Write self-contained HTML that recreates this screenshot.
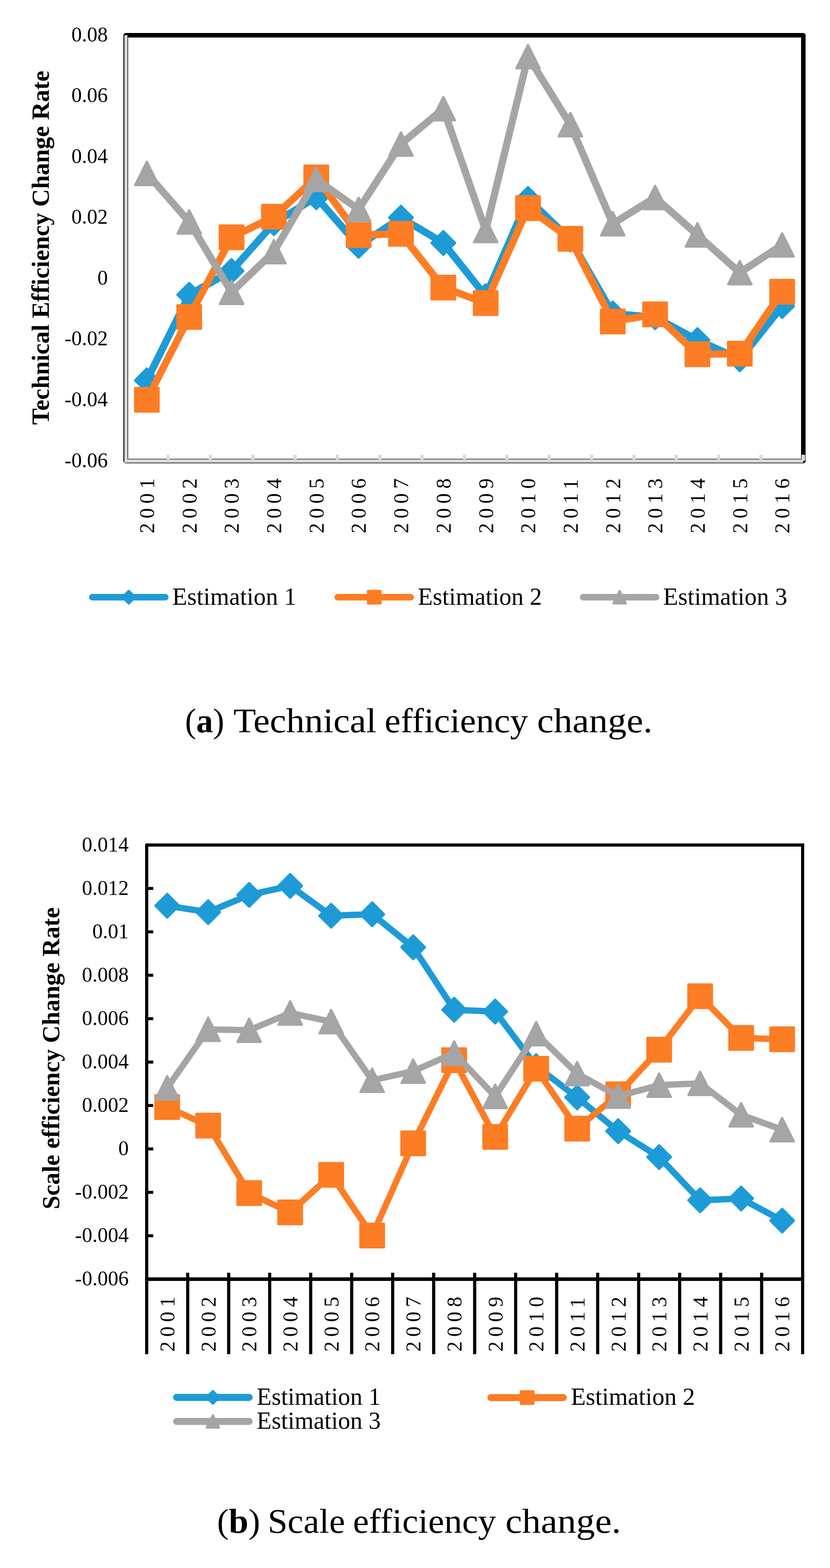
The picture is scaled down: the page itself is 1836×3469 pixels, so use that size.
<!DOCTYPE html>
<html lang="en"><head><meta charset="utf-8"><title>Efficiency change charts</title>
<style>
html,body{margin:0;padding:0;background:#fff;}
svg{display:block;}
svg text{font-family:'Liberation Serif', 'Times New Roman', serif;fill:#000;}
</style></head><body>
<svg width="1836" height="3469" viewBox="0 0 1836 3469">
<rect width="1836" height="3469" fill="#fff"/>
<g id="chartA">
<path d="M276.4 73H1778.6L1782 76.6V1021.4L1778.8 1025H276.6L273 1021.2V76.8Z" fill="#000"/>
<rect x="283.3" y="83" width="1488.7" height="932" fill="#fff"/>
<rect x="275.1" y="77.9" width="6.9" height="945.8" fill="#d9d9d9"/>
<rect x="275.1" y="1016.1" width="1501.9" height="7.6" fill="#d9d9d9"/>
<rect x="368.29" y="1006.1" width="6.8" height="10.5" fill="#d9d9d9"/>
<rect x="461.98" y="1006.1" width="6.8" height="10.5" fill="#d9d9d9"/>
<rect x="555.66" y="1006.1" width="6.8" height="10.5" fill="#d9d9d9"/>
<rect x="649.35" y="1006.1" width="6.8" height="10.5" fill="#d9d9d9"/>
<rect x="743.04" y="1006.1" width="6.8" height="10.5" fill="#d9d9d9"/>
<rect x="836.73" y="1006.1" width="6.8" height="10.5" fill="#d9d9d9"/>
<rect x="930.41" y="1006.1" width="6.8" height="10.5" fill="#d9d9d9"/>
<rect x="1024.1" y="1006.1" width="6.8" height="10.5" fill="#d9d9d9"/>
<rect x="1117.79" y="1006.1" width="6.8" height="10.5" fill="#d9d9d9"/>
<rect x="1211.47" y="1006.1" width="6.8" height="10.5" fill="#d9d9d9"/>
<rect x="1305.16" y="1006.1" width="6.8" height="10.5" fill="#d9d9d9"/>
<rect x="1398.85" y="1006.1" width="6.8" height="10.5" fill="#d9d9d9"/>
<rect x="1492.54" y="1006.1" width="6.8" height="10.5" fill="#d9d9d9"/>
<rect x="1586.22" y="1006.1" width="6.8" height="10.5" fill="#d9d9d9"/>
<rect x="1679.91" y="1006.1" width="6.8" height="10.5" fill="#d9d9d9"/>
<rect x="1773" y="1006.1" width="8.1" height="12.9" fill="#d9d9d9"/>
</g>
<polyline points="324.84,841.4 418.53,652 512.22,599.5 605.91,493.6 699.59,436.3 793.28,543.9 886.97,481.5 980.66,537.6 1074.34,655 1168.03,440 1261.72,530 1355.41,693.6 1449.09,702 1542.78,752.3 1636.47,795 1730.16,677.2" fill="none" stroke="#1d9bd7" stroke-width="16" stroke-linejoin="round" stroke-linecap="round"/>
<path d="M324.84 815.3L350.94 841.4L324.84 867.5L298.74 841.4Z" fill="#1d9bd7" stroke="#1d9bd7" stroke-width="5" stroke-linejoin="round"/>
<path d="M418.53 625.9L444.63 652L418.53 678.1L392.43 652Z" fill="#1d9bd7" stroke="#1d9bd7" stroke-width="5" stroke-linejoin="round"/>
<path d="M512.22 573.4L538.32 599.5L512.22 625.6L486.12 599.5Z" fill="#1d9bd7" stroke="#1d9bd7" stroke-width="5" stroke-linejoin="round"/>
<path d="M605.91 467.5L632.01 493.6L605.91 519.7L579.81 493.6Z" fill="#1d9bd7" stroke="#1d9bd7" stroke-width="5" stroke-linejoin="round"/>
<path d="M699.59 410.2L725.69 436.3L699.59 462.4L673.49 436.3Z" fill="#1d9bd7" stroke="#1d9bd7" stroke-width="5" stroke-linejoin="round"/>
<path d="M793.28 517.8L819.38 543.9L793.28 570L767.18 543.9Z" fill="#1d9bd7" stroke="#1d9bd7" stroke-width="5" stroke-linejoin="round"/>
<path d="M886.97 455.4L913.07 481.5L886.97 507.6L860.87 481.5Z" fill="#1d9bd7" stroke="#1d9bd7" stroke-width="5" stroke-linejoin="round"/>
<path d="M980.66 511.5L1006.76 537.6L980.66 563.7L954.56 537.6Z" fill="#1d9bd7" stroke="#1d9bd7" stroke-width="5" stroke-linejoin="round"/>
<path d="M1074.34 628.9L1100.44 655L1074.34 681.1L1048.24 655Z" fill="#1d9bd7" stroke="#1d9bd7" stroke-width="5" stroke-linejoin="round"/>
<path d="M1168.03 413.9L1194.13 440L1168.03 466.1L1141.93 440Z" fill="#1d9bd7" stroke="#1d9bd7" stroke-width="5" stroke-linejoin="round"/>
<path d="M1261.72 503.9L1287.82 530L1261.72 556.1L1235.62 530Z" fill="#1d9bd7" stroke="#1d9bd7" stroke-width="5" stroke-linejoin="round"/>
<path d="M1355.41 667.5L1381.51 693.6L1355.41 719.7L1329.31 693.6Z" fill="#1d9bd7" stroke="#1d9bd7" stroke-width="5" stroke-linejoin="round"/>
<path d="M1449.09 675.9L1475.19 702L1449.09 728.1L1422.99 702Z" fill="#1d9bd7" stroke="#1d9bd7" stroke-width="5" stroke-linejoin="round"/>
<path d="M1542.78 726.2L1568.88 752.3L1542.78 778.4L1516.68 752.3Z" fill="#1d9bd7" stroke="#1d9bd7" stroke-width="5" stroke-linejoin="round"/>
<path d="M1636.47 768.9L1662.57 795L1636.47 821.1L1610.37 795Z" fill="#1d9bd7" stroke="#1d9bd7" stroke-width="5" stroke-linejoin="round"/>
<path d="M1730.16 651.1L1756.26 677.2L1730.16 703.3L1704.06 677.2Z" fill="#1d9bd7" stroke="#1d9bd7" stroke-width="5" stroke-linejoin="round"/>
<polyline points="324.84,884.5 418.53,701.3 512.22,525 605.91,479.4 699.59,392.5 793.28,520 886.97,517.2 980.66,636.2 1074.34,670.4 1168.03,460.5 1261.72,528.3 1355.41,711.2 1449.09,695.5 1542.78,783.8 1636.47,782.4 1730.16,645.5" fill="none" stroke="#fd7d24" stroke-width="16" stroke-linejoin="round" stroke-linecap="round"/>
<rect x="298.84" y="858.5" width="52" height="52" fill="#fd7d24" stroke="#fd7d24" stroke-width="5" stroke-linejoin="round"/>
<rect x="392.53" y="675.3" width="52" height="52" fill="#fd7d24" stroke="#fd7d24" stroke-width="5" stroke-linejoin="round"/>
<rect x="486.22" y="499" width="52" height="52" fill="#fd7d24" stroke="#fd7d24" stroke-width="5" stroke-linejoin="round"/>
<rect x="579.91" y="453.4" width="52" height="52" fill="#fd7d24" stroke="#fd7d24" stroke-width="5" stroke-linejoin="round"/>
<rect x="673.59" y="366.5" width="52" height="52" fill="#fd7d24" stroke="#fd7d24" stroke-width="5" stroke-linejoin="round"/>
<rect x="767.28" y="494" width="52" height="52" fill="#fd7d24" stroke="#fd7d24" stroke-width="5" stroke-linejoin="round"/>
<rect x="860.97" y="491.2" width="52" height="52" fill="#fd7d24" stroke="#fd7d24" stroke-width="5" stroke-linejoin="round"/>
<rect x="954.66" y="610.2" width="52" height="52" fill="#fd7d24" stroke="#fd7d24" stroke-width="5" stroke-linejoin="round"/>
<rect x="1048.34" y="644.4" width="52" height="52" fill="#fd7d24" stroke="#fd7d24" stroke-width="5" stroke-linejoin="round"/>
<rect x="1142.03" y="434.5" width="52" height="52" fill="#fd7d24" stroke="#fd7d24" stroke-width="5" stroke-linejoin="round"/>
<rect x="1235.72" y="502.3" width="52" height="52" fill="#fd7d24" stroke="#fd7d24" stroke-width="5" stroke-linejoin="round"/>
<rect x="1329.41" y="685.2" width="52" height="52" fill="#fd7d24" stroke="#fd7d24" stroke-width="5" stroke-linejoin="round"/>
<rect x="1423.09" y="669.5" width="52" height="52" fill="#fd7d24" stroke="#fd7d24" stroke-width="5" stroke-linejoin="round"/>
<rect x="1516.78" y="757.8" width="52" height="52" fill="#fd7d24" stroke="#fd7d24" stroke-width="5" stroke-linejoin="round"/>
<rect x="1610.47" y="756.4" width="52" height="52" fill="#fd7d24" stroke="#fd7d24" stroke-width="5" stroke-linejoin="round"/>
<rect x="1704.16" y="619.5" width="52" height="52" fill="#fd7d24" stroke="#fd7d24" stroke-width="5" stroke-linejoin="round"/>
<polyline points="324.84,383.6 418.53,491 512.22,646.6 605.91,556.8 699.59,396.8 793.28,463.2 886.97,318.7 980.66,240.5 1074.34,510 1168.03,125.3 1261.72,275.7 1355.41,495 1449.09,436.9 1542.78,519.6 1636.47,603.3 1730.16,541.8" fill="none" stroke="#a5a5a5" stroke-width="16" stroke-linejoin="round" stroke-linecap="round"/>
<path d="M324.84 357.8L350.64 409.4L299.04 409.4Z" fill="#a5a5a5" stroke="#a5a5a5" stroke-width="5" stroke-linejoin="round"/>
<path d="M418.53 465.2L444.33 516.8L392.73 516.8Z" fill="#a5a5a5" stroke="#a5a5a5" stroke-width="5" stroke-linejoin="round"/>
<path d="M512.22 620.8L538.02 672.4L486.42 672.4Z" fill="#a5a5a5" stroke="#a5a5a5" stroke-width="5" stroke-linejoin="round"/>
<path d="M605.91 531L631.71 582.6L580.11 582.6Z" fill="#a5a5a5" stroke="#a5a5a5" stroke-width="5" stroke-linejoin="round"/>
<path d="M699.59 371L725.39 422.6L673.79 422.6Z" fill="#a5a5a5" stroke="#a5a5a5" stroke-width="5" stroke-linejoin="round"/>
<path d="M793.28 437.4L819.08 489L767.48 489Z" fill="#a5a5a5" stroke="#a5a5a5" stroke-width="5" stroke-linejoin="round"/>
<path d="M886.97 292.9L912.77 344.5L861.17 344.5Z" fill="#a5a5a5" stroke="#a5a5a5" stroke-width="5" stroke-linejoin="round"/>
<path d="M980.66 214.7L1006.46 266.3L954.86 266.3Z" fill="#a5a5a5" stroke="#a5a5a5" stroke-width="5" stroke-linejoin="round"/>
<path d="M1074.34 484.2L1100.14 535.8L1048.54 535.8Z" fill="#a5a5a5" stroke="#a5a5a5" stroke-width="5" stroke-linejoin="round"/>
<path d="M1168.03 99.5L1193.83 151.1L1142.23 151.1Z" fill="#a5a5a5" stroke="#a5a5a5" stroke-width="5" stroke-linejoin="round"/>
<path d="M1261.72 249.9L1287.52 301.5L1235.92 301.5Z" fill="#a5a5a5" stroke="#a5a5a5" stroke-width="5" stroke-linejoin="round"/>
<path d="M1355.41 469.2L1381.21 520.8L1329.61 520.8Z" fill="#a5a5a5" stroke="#a5a5a5" stroke-width="5" stroke-linejoin="round"/>
<path d="M1449.09 411.1L1474.89 462.7L1423.29 462.7Z" fill="#a5a5a5" stroke="#a5a5a5" stroke-width="5" stroke-linejoin="round"/>
<path d="M1542.78 493.8L1568.58 545.4L1516.98 545.4Z" fill="#a5a5a5" stroke="#a5a5a5" stroke-width="5" stroke-linejoin="round"/>
<path d="M1636.47 577.5L1662.27 629.1L1610.67 629.1Z" fill="#a5a5a5" stroke="#a5a5a5" stroke-width="5" stroke-linejoin="round"/>
<path d="M1730.16 516L1755.96 567.6L1704.36 567.6Z" fill="#a5a5a5" stroke="#a5a5a5" stroke-width="5" stroke-linejoin="round"/>
<text x="238.5" y="91.5" text-anchor="end" font-size="46">0.08</text>
<text x="238.5" y="226.07" text-anchor="end" font-size="46">0.06</text>
<text x="238.5" y="360.64" text-anchor="end" font-size="46">0.04</text>
<text x="238.5" y="495.21" text-anchor="end" font-size="46">0.02</text>
<text x="238.5" y="629.79" text-anchor="end" font-size="46">0</text>
<text x="238.5" y="764.36" text-anchor="end" font-size="46">-0.02</text>
<text x="238.5" y="898.93" text-anchor="end" font-size="46">-0.04</text>
<text x="238.5" y="1033.5" text-anchor="end" font-size="46">-0.06</text>
<text transform="translate(108 548) rotate(-90)" text-anchor="middle" font-size="54.5" font-weight="bold">Technical Efficiency Change Rate</text>
<text transform="translate(341.04 1180) rotate(-90)" font-size="46" letter-spacing="9.9">2001</text>
<text transform="translate(434.73 1180) rotate(-90)" font-size="46" letter-spacing="9.9">2002</text>
<text transform="translate(528.42 1180) rotate(-90)" font-size="46" letter-spacing="9.9">2003</text>
<text transform="translate(622.11 1180) rotate(-90)" font-size="46" letter-spacing="9.9">2004</text>
<text transform="translate(715.79 1180) rotate(-90)" font-size="46" letter-spacing="9.9">2005</text>
<text transform="translate(809.48 1180) rotate(-90)" font-size="46" letter-spacing="9.9">2006</text>
<text transform="translate(903.17 1180) rotate(-90)" font-size="46" letter-spacing="9.9">2007</text>
<text transform="translate(996.86 1180) rotate(-90)" font-size="46" letter-spacing="9.9">2008</text>
<text transform="translate(1090.54 1180) rotate(-90)" font-size="46" letter-spacing="9.9">2009</text>
<text transform="translate(1184.23 1180) rotate(-90)" font-size="46" letter-spacing="9.9">2010</text>
<text transform="translate(1277.92 1180) rotate(-90)" font-size="46" letter-spacing="9.9">2011</text>
<text transform="translate(1371.61 1180) rotate(-90)" font-size="46" letter-spacing="9.9">2012</text>
<text transform="translate(1465.29 1180) rotate(-90)" font-size="46" letter-spacing="9.9">2013</text>
<text transform="translate(1558.98 1180) rotate(-90)" font-size="46" letter-spacing="9.9">2014</text>
<text transform="translate(1652.67 1180) rotate(-90)" font-size="46" letter-spacing="9.9">2015</text>
<text transform="translate(1746.36 1180) rotate(-90)" font-size="46" letter-spacing="9.9">2016</text>
<line x1="204.2" y1="1321.2" x2="365.6" y2="1321.2" stroke="#1d9bd7" stroke-width="14.6" stroke-linecap="round"/>
<path d="M284.9 1307.35L298.75 1321.2L284.9 1335.05L271.05 1321.2Z" fill="#1d9bd7" stroke="#1d9bd7" stroke-width="5" stroke-linejoin="round"/>
<text x="381" y="1338.3" font-size="54">Estimation 1</text>
<line x1="747.1" y1="1321.2" x2="908.5" y2="1321.2" stroke="#fd7d24" stroke-width="14.6" stroke-linecap="round"/>
<rect x="814.05" y="1307.45" width="27.5" height="27.5" fill="#fd7d24" stroke="#fd7d24" stroke-width="5" stroke-linejoin="round"/>
<text x="924.2" y="1338.3" font-size="54">Estimation 2</text>
<line x1="1290" y1="1321.2" x2="1451.4" y2="1321.2" stroke="#a5a5a5" stroke-width="14.6" stroke-linecap="round"/>
<path d="M1370.7 1307.65L1384.25 1334.75L1357.15 1334.75Z" fill="#a5a5a5" stroke="#a5a5a5" stroke-width="5" stroke-linejoin="round"/>
<text x="1467" y="1338.3" font-size="54">Estimation 3</text>
<text x="409.3" y="1620.4" font-size="77" textLength="86.77" lengthAdjust="spacingAndGlyphs">(<tspan font-weight="bold">a</tspan>)</text>
<text x="516.2" y="1620.4" font-size="77" textLength="316.5" lengthAdjust="spacingAndGlyphs">Technical</text>
<text x="850.8" y="1620.4" font-size="77" textLength="317.42" lengthAdjust="spacingAndGlyphs">efficiency</text>
<text x="1187.9" y="1620.4" font-size="77" textLength="255.54" lengthAdjust="spacingAndGlyphs">change.</text>
<g id="chartB">
<rect x="321" y="1866" width="1458" height="7" fill="#000"/>
<rect x="1772" y="1866" width="7" height="968" fill="#000"/>
<rect x="321" y="1866" width="7" height="1130" fill="#000"/>
<rect x="321" y="2826" width="1458" height="7.9" fill="#000"/>
<rect x="411.69" y="2815.8" width="7" height="180.1" fill="#000"/>
<rect x="502.38" y="2815.8" width="7" height="180.1" fill="#000"/>
<rect x="593.06" y="2815.8" width="7" height="180.1" fill="#000"/>
<rect x="683.75" y="2815.8" width="7" height="180.1" fill="#000"/>
<rect x="774.44" y="2815.8" width="7" height="180.1" fill="#000"/>
<rect x="865.12" y="2815.8" width="7" height="180.1" fill="#000"/>
<rect x="955.81" y="2815.8" width="7" height="180.1" fill="#000"/>
<rect x="1046.5" y="2815.8" width="7" height="180.1" fill="#000"/>
<rect x="1137.19" y="2815.8" width="7" height="180.1" fill="#000"/>
<rect x="1227.88" y="2815.8" width="7" height="180.1" fill="#000"/>
<rect x="1318.56" y="2815.8" width="7" height="180.1" fill="#000"/>
<rect x="1409.25" y="2815.8" width="7" height="180.1" fill="#000"/>
<rect x="1499.94" y="2815.8" width="7" height="180.1" fill="#000"/>
<rect x="1590.62" y="2815.8" width="7" height="180.1" fill="#000"/>
<rect x="1681.31" y="2815.8" width="7" height="180.1" fill="#000"/>
<rect x="1772" y="2815.8" width="7" height="180.1" fill="#000"/>
<rect x="327" y="1962.25" width="12" height="6.6" fill="#000"/>
<rect x="327" y="2058.3" width="12" height="6.6" fill="#000"/>
<rect x="327" y="2154.35" width="12" height="6.6" fill="#000"/>
<rect x="327" y="2250.4" width="12" height="6.6" fill="#000"/>
<rect x="327" y="2346.45" width="12" height="6.6" fill="#000"/>
<rect x="327" y="2442.5" width="12" height="6.6" fill="#000"/>
<rect x="327" y="2538.55" width="12" height="6.6" fill="#000"/>
<rect x="327" y="2634.6" width="12" height="6.6" fill="#000"/>
<rect x="327" y="2730.65" width="12" height="6.6" fill="#000"/>
<path d="M320.5 1865.5H323.3L320.5 1868.4Z M1779.5 1865.5H1777.6L1779.5 1867.5Z" fill="#fff"/>
</g>
<polyline points="369.84,2003.8 460.53,2018 551.22,1979.9 641.91,1959.9 732.59,2025.9 823.28,2022.7 913.97,2095.8 1004.66,2233.9 1095.34,2237.9 1186.03,2358.8 1276.72,2427.8 1367.41,2502.6 1458.09,2559.8 1548.78,2655.6 1639.47,2651.6 1730.16,2700.5" fill="none" stroke="#1d9bd7" stroke-width="14" stroke-linejoin="round" stroke-linecap="round"/>
<path d="M369.84 1977.7L395.94 2003.8L369.84 2029.9L343.74 2003.8Z" fill="#1d9bd7" stroke="#1d9bd7" stroke-width="5" stroke-linejoin="round"/>
<path d="M460.53 1991.9L486.63 2018L460.53 2044.1L434.43 2018Z" fill="#1d9bd7" stroke="#1d9bd7" stroke-width="5" stroke-linejoin="round"/>
<path d="M551.22 1953.8L577.32 1979.9L551.22 2006L525.12 1979.9Z" fill="#1d9bd7" stroke="#1d9bd7" stroke-width="5" stroke-linejoin="round"/>
<path d="M641.91 1933.8L668.01 1959.9L641.91 1986L615.81 1959.9Z" fill="#1d9bd7" stroke="#1d9bd7" stroke-width="5" stroke-linejoin="round"/>
<path d="M732.59 1999.8L758.69 2025.9L732.59 2052L706.49 2025.9Z" fill="#1d9bd7" stroke="#1d9bd7" stroke-width="5" stroke-linejoin="round"/>
<path d="M823.28 1996.6L849.38 2022.7L823.28 2048.8L797.18 2022.7Z" fill="#1d9bd7" stroke="#1d9bd7" stroke-width="5" stroke-linejoin="round"/>
<path d="M913.97 2069.7L940.07 2095.8L913.97 2121.9L887.87 2095.8Z" fill="#1d9bd7" stroke="#1d9bd7" stroke-width="5" stroke-linejoin="round"/>
<path d="M1004.66 2207.8L1030.76 2233.9L1004.66 2260L978.56 2233.9Z" fill="#1d9bd7" stroke="#1d9bd7" stroke-width="5" stroke-linejoin="round"/>
<path d="M1095.34 2211.8L1121.44 2237.9L1095.34 2264L1069.24 2237.9Z" fill="#1d9bd7" stroke="#1d9bd7" stroke-width="5" stroke-linejoin="round"/>
<path d="M1186.03 2332.7L1212.13 2358.8L1186.03 2384.9L1159.93 2358.8Z" fill="#1d9bd7" stroke="#1d9bd7" stroke-width="5" stroke-linejoin="round"/>
<path d="M1276.72 2401.7L1302.82 2427.8L1276.72 2453.9L1250.62 2427.8Z" fill="#1d9bd7" stroke="#1d9bd7" stroke-width="5" stroke-linejoin="round"/>
<path d="M1367.41 2476.5L1393.51 2502.6L1367.41 2528.7L1341.31 2502.6Z" fill="#1d9bd7" stroke="#1d9bd7" stroke-width="5" stroke-linejoin="round"/>
<path d="M1458.09 2533.7L1484.19 2559.8L1458.09 2585.9L1431.99 2559.8Z" fill="#1d9bd7" stroke="#1d9bd7" stroke-width="5" stroke-linejoin="round"/>
<path d="M1548.78 2629.5L1574.88 2655.6L1548.78 2681.7L1522.68 2655.6Z" fill="#1d9bd7" stroke="#1d9bd7" stroke-width="5" stroke-linejoin="round"/>
<path d="M1639.47 2625.5L1665.57 2651.6L1639.47 2677.7L1613.37 2651.6Z" fill="#1d9bd7" stroke="#1d9bd7" stroke-width="5" stroke-linejoin="round"/>
<path d="M1730.16 2674.4L1756.26 2700.5L1730.16 2726.6L1704.06 2700.5Z" fill="#1d9bd7" stroke="#1d9bd7" stroke-width="5" stroke-linejoin="round"/>
<polyline points="369.84,2449.3 460.53,2490.3 551.22,2639.6 641.91,2682.2 732.59,2599.2 823.28,2733.5 913.97,2529.4 1004.66,2345.6 1095.34,2515.3 1186.03,2364.6 1276.72,2497 1367.41,2421 1458.09,2322.2 1548.78,2204.1 1639.47,2296.3 1730.16,2299.3" fill="none" stroke="#fd7d24" stroke-width="14" stroke-linejoin="round" stroke-linecap="round"/>
<rect x="343.84" y="2423.3" width="52" height="52" fill="#fd7d24" stroke="#fd7d24" stroke-width="5" stroke-linejoin="round"/>
<rect x="434.53" y="2464.3" width="52" height="52" fill="#fd7d24" stroke="#fd7d24" stroke-width="5" stroke-linejoin="round"/>
<rect x="525.22" y="2613.6" width="52" height="52" fill="#fd7d24" stroke="#fd7d24" stroke-width="5" stroke-linejoin="round"/>
<rect x="615.91" y="2656.2" width="52" height="52" fill="#fd7d24" stroke="#fd7d24" stroke-width="5" stroke-linejoin="round"/>
<rect x="706.59" y="2573.2" width="52" height="52" fill="#fd7d24" stroke="#fd7d24" stroke-width="5" stroke-linejoin="round"/>
<rect x="797.28" y="2707.5" width="52" height="52" fill="#fd7d24" stroke="#fd7d24" stroke-width="5" stroke-linejoin="round"/>
<rect x="887.97" y="2503.4" width="52" height="52" fill="#fd7d24" stroke="#fd7d24" stroke-width="5" stroke-linejoin="round"/>
<rect x="978.66" y="2319.6" width="52" height="52" fill="#fd7d24" stroke="#fd7d24" stroke-width="5" stroke-linejoin="round"/>
<rect x="1069.34" y="2489.3" width="52" height="52" fill="#fd7d24" stroke="#fd7d24" stroke-width="5" stroke-linejoin="round"/>
<rect x="1160.03" y="2338.6" width="52" height="52" fill="#fd7d24" stroke="#fd7d24" stroke-width="5" stroke-linejoin="round"/>
<rect x="1250.72" y="2471" width="52" height="52" fill="#fd7d24" stroke="#fd7d24" stroke-width="5" stroke-linejoin="round"/>
<rect x="1341.41" y="2395" width="52" height="52" fill="#fd7d24" stroke="#fd7d24" stroke-width="5" stroke-linejoin="round"/>
<rect x="1432.09" y="2296.2" width="52" height="52" fill="#fd7d24" stroke="#fd7d24" stroke-width="5" stroke-linejoin="round"/>
<rect x="1522.78" y="2178.1" width="52" height="52" fill="#fd7d24" stroke="#fd7d24" stroke-width="5" stroke-linejoin="round"/>
<rect x="1613.47" y="2270.3" width="52" height="52" fill="#fd7d24" stroke="#fd7d24" stroke-width="5" stroke-linejoin="round"/>
<rect x="1704.16" y="2273.3" width="52" height="52" fill="#fd7d24" stroke="#fd7d24" stroke-width="5" stroke-linejoin="round"/>
<polyline points="369.84,2406.7 460.53,2277.3 551.22,2279.3 641.91,2241.1 732.59,2260.3 823.28,2390 913.97,2369.8 1004.66,2329.9 1095.34,2425.6 1186.03,2286.8 1276.72,2375.3 1367.41,2425 1458.09,2400.8 1548.78,2396.8 1639.47,2466.4 1730.16,2499.3" fill="none" stroke="#a5a5a5" stroke-width="14" stroke-linejoin="round" stroke-linecap="round"/>
<path d="M369.84 2380.9L395.64 2432.5L344.04 2432.5Z" fill="#a5a5a5" stroke="#a5a5a5" stroke-width="5" stroke-linejoin="round"/>
<path d="M460.53 2251.5L486.33 2303.1L434.73 2303.1Z" fill="#a5a5a5" stroke="#a5a5a5" stroke-width="5" stroke-linejoin="round"/>
<path d="M551.22 2253.5L577.02 2305.1L525.42 2305.1Z" fill="#a5a5a5" stroke="#a5a5a5" stroke-width="5" stroke-linejoin="round"/>
<path d="M641.91 2215.3L667.71 2266.9L616.11 2266.9Z" fill="#a5a5a5" stroke="#a5a5a5" stroke-width="5" stroke-linejoin="round"/>
<path d="M732.59 2234.5L758.39 2286.1L706.79 2286.1Z" fill="#a5a5a5" stroke="#a5a5a5" stroke-width="5" stroke-linejoin="round"/>
<path d="M823.28 2364.2L849.08 2415.8L797.48 2415.8Z" fill="#a5a5a5" stroke="#a5a5a5" stroke-width="5" stroke-linejoin="round"/>
<path d="M913.97 2344L939.77 2395.6L888.17 2395.6Z" fill="#a5a5a5" stroke="#a5a5a5" stroke-width="5" stroke-linejoin="round"/>
<path d="M1004.66 2304.1L1030.46 2355.7L978.86 2355.7Z" fill="#a5a5a5" stroke="#a5a5a5" stroke-width="5" stroke-linejoin="round"/>
<path d="M1095.34 2399.8L1121.14 2451.4L1069.54 2451.4Z" fill="#a5a5a5" stroke="#a5a5a5" stroke-width="5" stroke-linejoin="round"/>
<path d="M1186.03 2261L1211.83 2312.6L1160.23 2312.6Z" fill="#a5a5a5" stroke="#a5a5a5" stroke-width="5" stroke-linejoin="round"/>
<path d="M1276.72 2349.5L1302.52 2401.1L1250.92 2401.1Z" fill="#a5a5a5" stroke="#a5a5a5" stroke-width="5" stroke-linejoin="round"/>
<path d="M1367.41 2399.2L1393.21 2450.8L1341.61 2450.8Z" fill="#a5a5a5" stroke="#a5a5a5" stroke-width="5" stroke-linejoin="round"/>
<path d="M1458.09 2375L1483.89 2426.6L1432.29 2426.6Z" fill="#a5a5a5" stroke="#a5a5a5" stroke-width="5" stroke-linejoin="round"/>
<path d="M1548.78 2371L1574.58 2422.6L1522.98 2422.6Z" fill="#a5a5a5" stroke="#a5a5a5" stroke-width="5" stroke-linejoin="round"/>
<path d="M1639.47 2440.6L1665.27 2492.2L1613.67 2492.2Z" fill="#a5a5a5" stroke="#a5a5a5" stroke-width="5" stroke-linejoin="round"/>
<path d="M1730.16 2473.5L1755.96 2525.1L1704.36 2525.1Z" fill="#a5a5a5" stroke="#a5a5a5" stroke-width="5" stroke-linejoin="round"/>
<text x="284.7" y="1883.5" text-anchor="end" font-size="46">0.014</text>
<text x="284.7" y="1979.55" text-anchor="end" font-size="46">0.012</text>
<text x="284.7" y="2075.6" text-anchor="end" font-size="46">0.01</text>
<text x="284.7" y="2171.65" text-anchor="end" font-size="46">0.008</text>
<text x="284.7" y="2267.7" text-anchor="end" font-size="46">0.006</text>
<text x="284.7" y="2363.75" text-anchor="end" font-size="46">0.004</text>
<text x="284.7" y="2459.8" text-anchor="end" font-size="46">0.002</text>
<text x="284.7" y="2555.85" text-anchor="end" font-size="46">0</text>
<text x="284.7" y="2651.9" text-anchor="end" font-size="46">-0.002</text>
<text x="284.7" y="2747.95" text-anchor="end" font-size="46">-0.004</text>
<text x="284.7" y="2844" text-anchor="end" font-size="46">-0.006</text>
<text transform="translate(130.7 2341.5) rotate(-90)" text-anchor="middle" font-size="54.3" font-weight="bold">Scale efficiency Change Rate</text>
<text transform="translate(386.04 2990.5) rotate(-90)" font-size="46" letter-spacing="9.9">2001</text>
<text transform="translate(476.73 2990.5) rotate(-90)" font-size="46" letter-spacing="9.9">2002</text>
<text transform="translate(567.42 2990.5) rotate(-90)" font-size="46" letter-spacing="9.9">2003</text>
<text transform="translate(658.11 2990.5) rotate(-90)" font-size="46" letter-spacing="9.9">2004</text>
<text transform="translate(748.79 2990.5) rotate(-90)" font-size="46" letter-spacing="9.9">2005</text>
<text transform="translate(839.48 2990.5) rotate(-90)" font-size="46" letter-spacing="9.9">2006</text>
<text transform="translate(930.17 2990.5) rotate(-90)" font-size="46" letter-spacing="9.9">2007</text>
<text transform="translate(1020.86 2990.5) rotate(-90)" font-size="46" letter-spacing="9.9">2008</text>
<text transform="translate(1111.54 2990.5) rotate(-90)" font-size="46" letter-spacing="9.9">2009</text>
<text transform="translate(1202.23 2990.5) rotate(-90)" font-size="46" letter-spacing="9.9">2010</text>
<text transform="translate(1292.92 2990.5) rotate(-90)" font-size="46" letter-spacing="9.9">2011</text>
<text transform="translate(1383.61 2990.5) rotate(-90)" font-size="46" letter-spacing="9.9">2012</text>
<text transform="translate(1474.29 2990.5) rotate(-90)" font-size="46" letter-spacing="9.9">2013</text>
<text transform="translate(1564.98 2990.5) rotate(-90)" font-size="46" letter-spacing="9.9">2014</text>
<text transform="translate(1655.67 2990.5) rotate(-90)" font-size="46" letter-spacing="9.9">2015</text>
<text transform="translate(1746.36 2990.5) rotate(-90)" font-size="46" letter-spacing="9.9">2016</text>
<line x1="390.7" y1="3091.6" x2="551.1" y2="3091.6" stroke="#1d9bd7" stroke-width="15.6" stroke-linecap="round"/>
<path d="M470.9 3077.75L484.75 3091.6L470.9 3105.45L457.05 3091.6Z" fill="#1d9bd7" stroke="#1d9bd7" stroke-width="5" stroke-linejoin="round"/>
<text x="567.8" y="3108" font-size="54">Estimation 1</text>
<line x1="1085.8" y1="3092" x2="1246.2" y2="3092" stroke="#fd7d24" stroke-width="15.6" stroke-linecap="round"/>
<rect x="1152.25" y="3078.25" width="27.5" height="27.5" fill="#fd7d24" stroke="#fd7d24" stroke-width="5" stroke-linejoin="round"/>
<text x="1262.8" y="3108" font-size="54">Estimation 2</text>
<line x1="390.7" y1="3144.8" x2="551.1" y2="3144.8" stroke="#a5a5a5" stroke-width="15.6" stroke-linecap="round"/>
<path d="M470.9 3131.25L484.45 3158.35L457.35 3158.35Z" fill="#a5a5a5" stroke="#a5a5a5" stroke-width="5" stroke-linejoin="round"/>
<text x="567.8" y="3160.6" font-size="54">Estimation 3</text>
<text x="479.9" y="3391" font-size="77" textLength="95.61" lengthAdjust="spacingAndGlyphs">(<tspan font-weight="bold">b</tspan>)</text>
<text x="592.2" y="3391" font-size="77" textLength="171.05" lengthAdjust="spacingAndGlyphs">Scale</text>
<text x="780.7" y="3391" font-size="77" textLength="316.71" lengthAdjust="spacingAndGlyphs">efficiency</text>
<text x="1117.9" y="3391" font-size="77" textLength="255.85" lengthAdjust="spacingAndGlyphs">change.</text>
</svg>
</body></html>
